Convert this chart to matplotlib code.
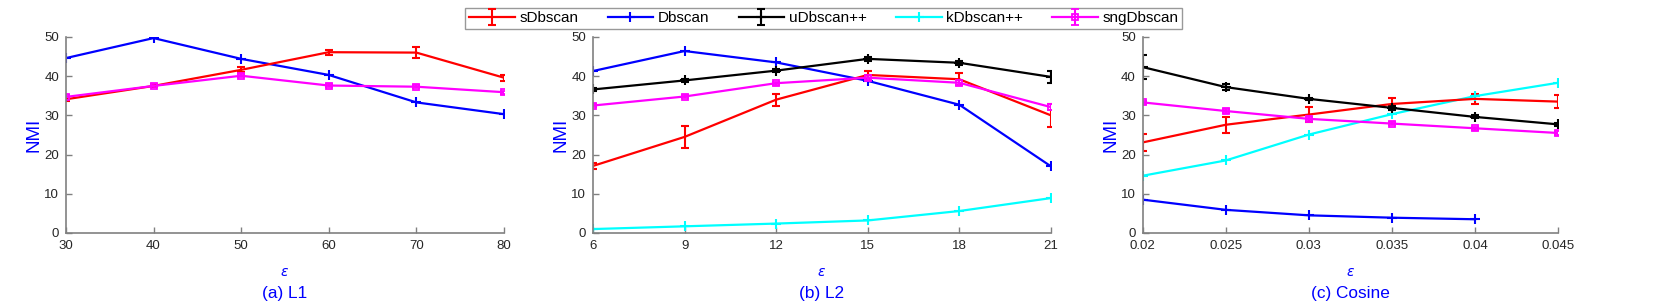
import numpy as np
import matplotlib.pyplot as plt

plt.rcParams['font.family'] = ['Liberation Sans', 'DejaVu Sans']

# eje x de cada panel
x_l1 = [30, 40, 50, 60, 70, 80]
x_l2 = [6, 9, 12, 15, 18, 21]
x_cos = [0.02, 0.025, 0.03, 0.035, 0.04, 0.045]

# (a) L1
s_l1 = [34.1, 37.5, 41.6, 46.1, 46.0, 39.6]
s_l1_err = [0.4, 0.4, 0.6, 0.6, 1.4, 0.8]
d_l1 = [44.6, 49.7, 44.4, 40.3, 33.3, 30.3]
sng_l1 = [34.7, 37.5, 40.1, 37.6, 37.3, 35.9]
sng_l1_err = [0.4, 0.4, 0.4, 0.4, 0.4, 0.4]

# (b) L2
s_l2 = [17.1, 24.5, 34.0, 40.3, 39.2, 30.0]
s_l2_err = [0.8, 2.9, 1.5, 1.0, 1.5, 3.0]
d_l2 = [41.3, 46.4, 43.5, 38.8, 32.7, 17.0]
u_l2 = [36.6, 38.9, 41.4, 44.4, 43.4, 39.8]
u_l2_err = [0.3, 0.3, 0.4, 0.5, 0.5, 1.5]
k_l2 = [1.0, 1.7, 2.4, 3.2, 5.6, 8.9]
sng_l2 = [32.5, 34.8, 38.2, 39.6, 38.3, 32.1]
sng_l2_err = [0.4, 0.4, 0.4, 0.6, 0.6, 0.8]

# (c) Cosine
s_cos = [23.1, 27.6, 30.2, 32.9, 34.2, 33.5]
s_cos_err = [2.2, 2.1, 1.8, 1.6, 1.2, 1.6]
d_cos = [8.5, 5.9, 4.5, 3.9, 3.5]
u_cos = [42.3, 37.2, 34.2, 31.9, 29.6, 27.7]
u_cos_err = [3.0, 0.8, 0.3, 0.6, 0.4, 0.4]
k_cos = [14.6, 18.5, 25.1, 30.3, 34.9, 38.3]
sng_cos = [33.3, 31.1, 29.1, 27.9, 26.7, 25.5]
sng_cos_err = [0.4, 0.6, 0.4, 0.4, 0.4, 0.4]

panels = ["(a) L1", "(b) L2", "(c) Cosine"]
xticklabels = [["30", "40", "50", "60", "70", "80"],
               ["6", "9", "12", "15", "18", "21"],
               ["0.02", "0.025", "0.03", "0.035", "0.04", "0.045"]]

RED, BLUE, BLACK, CYAN, MAG = '#ff0000', '#0000ff', '#000000', '#00ffff', '#ff00ff'

fig = plt.figure(figsize=(16.61, 3.04), dpi=100)
rects = [[0.0397, 0.2336, 0.2637, 0.645],
         [0.357, 0.2336, 0.2757, 0.645],
         [0.688, 0.2336, 0.250, 0.645]]
axs = [fig.add_axes(r) for r in rects]

lw = 1.6
eb = dict(capsize=3, elinewidth=1.5, capthick=1.5, lw=lw)
pm = dict(marker='+', ms=7, mew=1.5, lw=lw)
sq = dict(marker='s', ms=5, mfc='none', mew=1.3)

ax = axs[0]
h_s = ax.errorbar(x_l1, s_l1, yerr=s_l1_err, color=RED, **eb)
h_d, = ax.plot(x_l1, d_l1, color=BLUE, **pm)
h_sng = ax.errorbar(x_l1, sng_l1, yerr=sng_l1_err, color=MAG, **sq, **eb)

ax = axs[1]
ax.errorbar(x_l2, s_l2, yerr=s_l2_err, color=RED, **eb)
ax.plot(x_l2, d_l2, color=BLUE, **pm)
h_u = ax.errorbar(x_l2, u_l2, yerr=u_l2_err, color=BLACK, marker='+', ms=7, mew=1.5, **eb)
h_k, = ax.plot(x_l2, k_l2, color=CYAN, **pm)
ax.errorbar(x_l2, sng_l2, yerr=sng_l2_err, color=MAG, **sq, **eb)

ax = axs[2]
ax.errorbar(x_cos, s_cos, yerr=s_cos_err, color=RED, **eb)
ax.plot(x_cos[:len(d_cos)], d_cos, color=BLUE, **pm)
ax.errorbar(x_cos, u_cos, yerr=u_cos_err, color=BLACK, marker='+', ms=7, mew=1.5, **eb)
ax.plot(x_cos, k_cos, color=CYAN, **pm)
ax.errorbar(x_cos, sng_cos, yerr=sng_cos_err, color=MAG, **sq, **eb)

xs = [x_l1, x_l2, x_cos]
for i, ax in enumerate(axs):
    ax.set_xlim(xs[i][0], xs[i][-1])
    ax.set_ylim(0, 50)
    ax.set_xticks(xs[i])
    ax.set_xticklabels(xticklabels[i])
    ax.set_yticks([0, 10, 20, 30, 40, 50])
    for sp in ['top', 'right']:
        ax.spines[sp].set_visible(False)
    for sp in ['left', 'bottom']:
        ax.spines[sp].set_color('#808080')
        ax.spines[sp].set_linewidth(1.2)
    ax.tick_params(direction='in', length=4, width=1, color='#808080',
                   labelsize=9.5, labelcolor='#262626', pad=5)
    ax.set_ylabel("NMI", color=BLUE, fontsize=13.5, labelpad=1)
    # etiqueta del eje x y subtitulo, en coordenadas de figura
    cx = rects[i][0] + rects[i][2] / 2
    fig.text(cx, 0.105, r"$\epsilon$", ha='center', va='center',
             color=BLUE, fontsize=10)
    fig.text(cx, 0.036, panels[i], ha='center', va='center',
             color=BLUE, fontsize=12.4)

fig.legend([h_s, h_d, h_u, h_k, h_sng],
           ["sDbscan", "Dbscan", "uDbscan++", "kDbscan++", "sngDbscan"],
           loc='upper center', bbox_to_anchor=(0.496, 1.0), ncol=5,
           fontsize=11, fancybox=False, edgecolor='#808080',
           handlelength=3, columnspacing=1.9, borderpad=0.25,
           handletextpad=0.3)

plt.savefig("out.png", dpi=100)
